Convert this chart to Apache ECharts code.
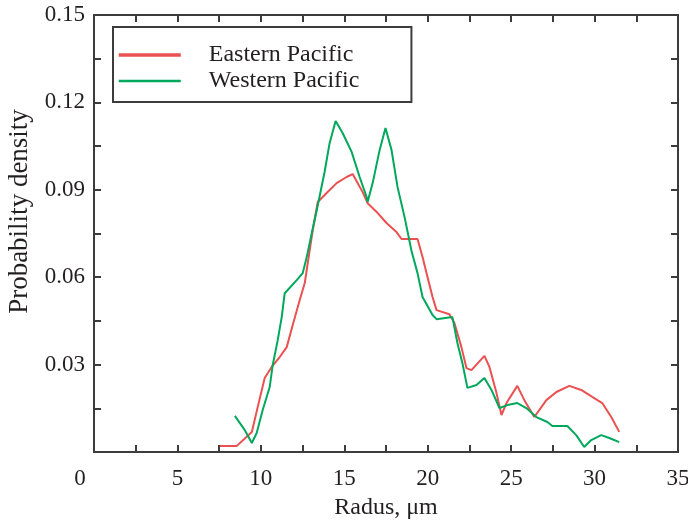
<!DOCTYPE html>
<html>
<head>
<meta charset="utf-8">
<script src="https://cdn.jsdelivr.net/npm/echarts@6/dist/echarts.min.js"></script>
<style>
html,body{margin:0;padding:0;background:#fff;}
#chart{width:688px;height:523px;}
</style>
</head>
<body>
<div id="chart"></div>
<script>
var seriesNames = ['Eastern Pacific', 'Western Pacific'];

var eastX = [7.54, 8.56, 9.46, 9.81, 10.23, 10.65, 11.13, 11.55, 11.91, 12.33, 12.63, 13.11, 13.41, 13.94, 14.54, 15.14, 15.50, 15.80, 16.10, 16.40, 16.94, 17.53, 18.13, 18.43, 19.39, 19.69, 19.99, 20.29, 20.53, 21.30, 21.60, 22.02, 22.32, 22.62, 23.40, 23.70, 24.12, 24.42, 24.72, 25.37, 25.79, 26.39, 27.11, 27.71, 28.49, 29.20, 29.86, 30.46, 31.00, 31.48];
var eastY = [0.0021, 0.0021, 0.0069, 0.0154, 0.0254, 0.0292, 0.0326, 0.0360, 0.0436, 0.0522, 0.0580, 0.0762, 0.0858, 0.0889, 0.0923, 0.0944, 0.0954, 0.0923, 0.0892, 0.0854, 0.0824, 0.0786, 0.0755, 0.0731, 0.0731, 0.0669, 0.0600, 0.0532, 0.0487, 0.0473, 0.0443, 0.0360, 0.0288, 0.0281, 0.0330, 0.0292, 0.0203, 0.0127, 0.0168, 0.0227, 0.0178, 0.0120, 0.0178, 0.0206, 0.0227, 0.0213, 0.0189, 0.0168, 0.0120, 0.0069];

var westX = [8.44, 9.04, 9.46, 9.75, 10.11, 10.53, 10.71, 11.01, 11.25, 11.43, 12.15, 12.51, 12.75, 13.05, 13.35, 13.82, 14.12, 14.48, 14.90, 15.44, 15.92, 16.34, 16.40, 16.70, 17.12, 17.47, 17.83, 18.19, 18.61, 19.03, 19.39, 19.69, 20.29, 20.53, 21.48, 21.78, 22.08, 22.38, 22.92, 23.40, 23.82, 24.30, 24.78, 25.37, 25.91, 26.51, 27.17, 27.47, 28.37, 28.90, 29.38, 29.80, 30.40, 30.88, 31.48];
var westY = [0.0124, 0.0075, 0.0031, 0.0065, 0.0144, 0.0223, 0.0298, 0.0384, 0.0463, 0.0545, 0.0590, 0.0614, 0.0669, 0.0751, 0.0830, 0.0961, 0.1060, 0.1136, 0.1095, 0.1030, 0.0944, 0.0875, 0.0858, 0.0923, 0.1037, 0.1112, 0.1037, 0.0910, 0.0807, 0.0690, 0.0614, 0.0532, 0.0470, 0.0456, 0.0463, 0.0374, 0.0305, 0.0220, 0.0230, 0.0254, 0.0213, 0.0151, 0.0161, 0.0168, 0.0151, 0.0120, 0.0103, 0.0089, 0.0089, 0.0058, 0.0017, 0.0041, 0.0058, 0.0048, 0.0034];

var xTickLabels = ['0', '5', '10', '15', '20', '25', '30', '35'];
var yTickLabels = ['0.03', '0.06', '0.09', '0.12', '0.15'];

function pairs(xs, ys) { return xs.map(function (x, i) { return [x, ys[i]]; }); }

var FONT = "'Liberation Serif', 'Times New Roman', serif";
var AX = '#3c3c3c';
var TXT = '#231f20';

function isMult(v, step) { var r = v / step; return Math.abs(r - Math.round(r)) < 1e-6; }

var baseX = {
  type: 'value', min: 0, max: 35, interval: 2.5,
  axisLine: { show: true, onZero: false, lineStyle: { color: AX, width: 2 } },
  axisTick: { show: true, inside: true, length: 7, lineStyle: { color: AX, width: 2 } },
  splitLine: { show: false }
};
var baseY = {
  type: 'value', min: 0, max: 0.15, interval: 0.015,
  axisLine: { show: true, onZero: false, lineStyle: { color: AX, width: 2 } },
  axisTick: { show: true, inside: true, length: 7, lineStyle: { color: AX, width: 2 } },
  splitLine: { show: false }
};

var option = {
  backgroundColor: '#fff',
  animation: false,
  grid: { left: 94, right: 10, top: 15, bottom: 71, containLabel: false, outerBoundsMode: 'none' },
  legend: {
    orient: 'vertical',
    left: 113, top: 27,
    data: [
      { name: seriesNames[0], lineStyle: { width: 3.5 } },
      { name: seriesNames[1], lineStyle: { width: 2.5 } }
    ],
    itemStyle: { opacity: 0 },
    itemWidth: 62, itemHeight: 20, itemGap: 2,
    padding: [16, 52, 9, 4],
    borderColor: AX, borderWidth: 2, borderRadius: 0,
    textStyle: { fontFamily: FONT, fontSize: 24, color: TXT, padding: [0, 0, 0, 23] }
  },
  xAxis: [
    Object.assign({}, baseX, {
      position: 'bottom',
      name: 'Radus, μm', nameLocation: 'middle', nameGap: 44,
      nameTextStyle: { fontFamily: FONT, fontSize: 24, color: TXT },
      axisLabel: {
        margin: 15, fontFamily: FONT, fontSize: 23, color: TXT,
        formatter: function (v) {
          if (!isMult(v, 5)) return '';
          var s = xTickLabels[Math.round(v / 5)];
          return v === 0 ? '{z|' + s + '}' : s;
        },
        rich: { z: { fontFamily: FONT, fontSize: 23, color: TXT, padding: [0, 28, 0, 0] } }
      }
    }),
    Object.assign({}, baseX, { position: 'top', axisLabel: { show: false } })
  ],
  yAxis: [
    Object.assign({}, baseY, {
      position: 'left',
      name: 'Probability density', nameLocation: 'middle', nameGap: 58, nameRotate: 90,
      nameTextStyle: { fontFamily: FONT, fontSize: 27, color: TXT, padding: [0, 0, 0, 44] },
      axisLabel: {
        margin: 9, fontFamily: FONT, fontSize: 23, color: TXT,
        formatter: function (v) {
          if (v <= 0 || !isMult(v, 0.03)) return '';
          return yTickLabels[Math.round(v / 0.03) - 1];
        }
      }
    }),
    Object.assign({}, baseY, { position: 'right', axisLabel: { show: false } })
  ],
  series: [
    {
      name: seriesNames[0], type: 'line', xAxisIndex: 0, yAxisIndex: 0,
      data: pairs(eastX, eastY), symbol: 'none', showSymbol: false,
      lineStyle: { color: '#ea5150', width: 2 }, itemStyle: { color: '#ea5150' }, z: 2
    },
    {
      name: seriesNames[1], type: 'line', xAxisIndex: 0, yAxisIndex: 0,
      data: pairs(westX, westY), symbol: 'none', showSymbol: false,
      lineStyle: { color: '#00a85c', width: 2 }, itemStyle: { color: '#00a85c' }, z: 3
    }
  ]
};

var chart = echarts.init(document.getElementById('chart'), null, { renderer: 'canvas' });
chart.setOption(option);
</script>
</body>
</html>
